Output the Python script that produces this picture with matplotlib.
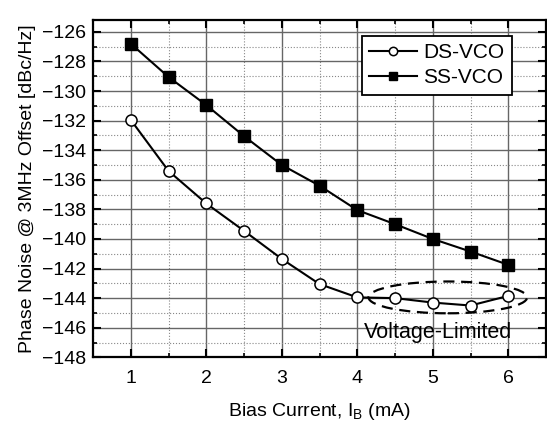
import matplotlib
matplotlib.use("Agg")
import matplotlib.pyplot as plt
from matplotlib.patches import Ellipse
from matplotlib.ticker import MultipleLocator

plt.rcParams['font.family'] = ['Liberation Sans', 'DejaVu Sans']

bias = [1, 1.5, 2, 2.5, 3, 3.5, 4, 4.5, 5, 5.5, 6]
ds_vco = [-131.95, -135.4, -137.6, -139.45, -141.35, -143.05, -143.95, -144.0, -144.3, -144.5, -143.85]
ss_vco = [-126.8, -129.05, -130.95, -133.05, -135.0, -136.4, -138.05, -139.0, -140.0, -140.85, -141.75]

fig = plt.figure(figsize=(5.47, 4.22), dpi=100)
ax = fig.add_axes([93/547, 1-357.3/422, (546-93)/547, (357.3-20)/422])

ax.plot(bias, ds_vco, '-o', color='black', mfc='white', mec='black', ms=8, mew=1.1, lw=1.5, label='DS-VCO', zorder=3)
ax.plot(bias, ss_vco, '-s', color='black', mfc='black', mec='black', ms=8, lw=1.5, label='SS-VCO', zorder=3)

ax.set_xlim(0.5, 6.5)
ax.set_ylim(-148, -125.2)
ax.xaxis.set_major_locator(MultipleLocator(1))
ax.xaxis.set_minor_locator(MultipleLocator(0.5))
ax.yaxis.set_major_locator(MultipleLocator(2))
ax.yaxis.set_minor_locator(MultipleLocator(1))
ax.grid(which='major', color='#666666', lw=1.0, ls='-')
ax.grid(which='minor', color='#888888', lw=0.8, ls=':')
ax.set_axisbelow(True)
ax.tick_params(which='both', direction='in', top=True, right=True, labelsize=14)
ax.tick_params(axis='x', which='both', pad=9)
ax.tick_params(axis='y', which='both', pad=5)
ax.tick_params(which='major', length=6, width=1.5)
ax.tick_params(which='minor', length=3, width=1.2)
for s in ax.spines.values():
    s.set_linewidth(1.6)

ax.set_xlabel('Bias Current, I$_\\mathregular{B}$ (mA)', fontsize=14, labelpad=10)
ax.set_ylabel('Phase Noise @ 3MHz Offset [dBc/Hz]', fontsize=14, labelpad=4)

ell = Ellipse((5.2, -143.95), 2.1, 2.15, fill=False, ls=(0, (5, 3)), lw=1.6, color='black', zorder=4)
ax.add_patch(ell)
ax.text(5.07, -146.7, 'Voltage-Limited', fontsize=15.5, ha='center', va='baseline')

leg = ax.legend(loc='upper right', fontsize=15, frameon=True, fancybox=False, edgecolor='black',
                framealpha=1, bbox_to_anchor=(0.924, 0.953), handlelength=2.3, handletextpad=0.3,
                borderpad=0.35, labelspacing=0.3, markerscale=0.75, borderaxespad=0)
leg.get_frame().set_linewidth(1.3)

fig.savefig('out.png', dpi=100)
